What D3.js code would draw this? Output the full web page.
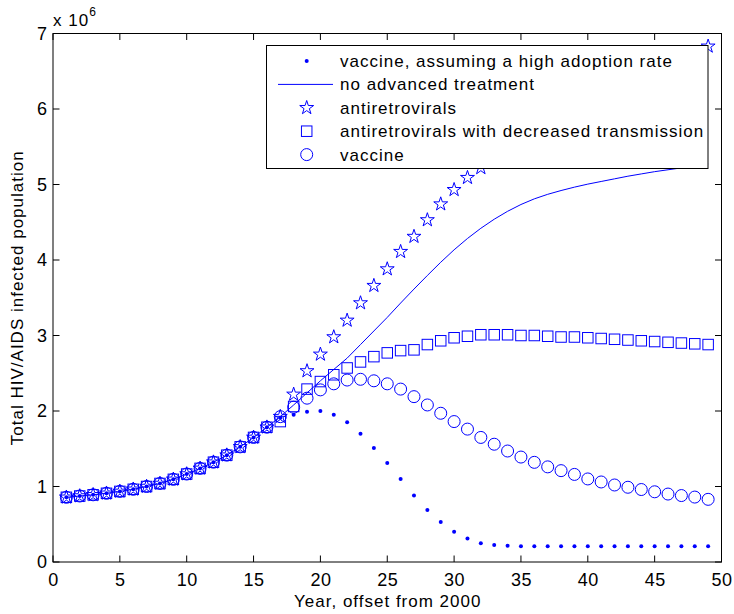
<!DOCTYPE html>
<html>
<head>
<meta charset="utf-8">
<script src="https://cdn.jsdelivr.net/npm/d3@7"></script>
<style>
  html, body { margin: 0; padding: 0; background: #fff; }
  svg { display: block; font-family: "Liberation Sans", Arial, sans-serif; }
</style>
</head>
<body>
<svg id="chart" width="734" height="614"></svg>
<script>
// ---- data (values in millions, i.e. x 10^6) ----
const years = [1,2,3,4,5,6,7,8,9,10,11,12,13,14,15,16,17,18,19,20,21,22,23,24,25,26,27,28,29,30,31,32,33,34,35,36,37,38,39,40,41,42,43,44,45,46,47,48,49];

const vaccineHighAdoption = [0.857,0.874,0.89,0.91,0.935,0.963,1.0,1.04,1.095,1.165,1.24,1.322,1.415,1.525,1.65,1.785,1.91,1.95,1.99,2.0,1.95,1.85,1.70,1.51,1.31,1.10,0.88,0.69,0.53,0.40,0.31,0.25,0.225,0.215,0.21,0.21,0.21,0.21,0.21,0.21,0.21,0.21,0.21,0.21,0.21,0.21,0.21,0.21,0.21];

const noAdvancedTreatment = [0.857,0.874,0.89,0.91,0.935,0.963,1.0,1.04,1.095,1.165,1.24,1.322,1.415,1.525,1.65,1.785,1.925,2.08,2.24,2.40,2.55,2.70,2.88,3.06,3.24,3.43,3.615,3.795,3.97,4.135,4.285,4.42,4.54,4.645,4.735,4.81,4.87,4.92,4.965,5.005,5.04,5.075,5.11,5.14,5.17,5.195,5.22,5.245,5.27];

const antiretrovirals = [0.857,0.874,0.89,0.91,0.935,0.963,1.0,1.04,1.095,1.165,1.24,1.322,1.415,1.525,1.65,1.785,1.925,2.22,2.53,2.75,2.98,3.20,3.43,3.66,3.88,4.11,4.31,4.53,4.74,4.93,5.09,5.22,5.36,5.49,5.61,5.72,5.83,5.93,6.03,6.12,6.21,6.29,6.37,6.45,6.53,6.60,6.68,6.75,6.83];

const antiretroviralsDecreased = [0.857,0.874,0.89,0.91,0.935,0.963,1.0,1.04,1.095,1.165,1.24,1.322,1.415,1.525,1.65,1.785,1.86,2.06,2.29,2.39,2.48,2.57,2.65,2.72,2.77,2.80,2.81,2.88,2.93,2.97,2.99,3.01,3.01,3.01,3.00,3.00,2.99,2.98,2.98,2.97,2.96,2.95,2.94,2.93,2.92,2.91,2.90,2.89,2.88];

const vaccine = [0.857,0.874,0.89,0.91,0.935,0.963,1.0,1.04,1.095,1.165,1.24,1.322,1.415,1.525,1.65,1.785,1.925,2.05,2.17,2.28,2.36,2.41,2.42,2.40,2.36,2.29,2.19,2.08,1.97,1.86,1.76,1.65,1.56,1.47,1.39,1.32,1.26,1.21,1.16,1.10,1.06,1.02,0.99,0.96,0.93,0.90,0.88,0.86,0.83];

const xTicks = [0,5,10,15,20,25,30,35,40,45,50];
const yTicks = [0,1,2,3,4,5,6,7];
const legendLabels = [
  "vaccine, assuming a high adoption rate",
  "no advanced treatment",
  "antiretrovirals",
  "antiretrovirals with decreased transmission",
  "vaccine"
];

// ---- drawing ----
const svg = d3.select("#chart");
const L = 53, R = 721.5, T = 33.5, B = 562;
const x = d3.scaleLinear().domain([0, 50]).range([L, R]);
const y = d3.scaleLinear().domain([0, 7]).range([B, T]);
const blue = "#0000ff";
const fs = 17;
const ls = "1px";

const plot = svg.append("g");
const pts = (vals) => years.map((yr, i) => [yr, vals[i]]);

// dots
plot.append("g").selectAll("circle").data(pts(vaccineHighAdoption)).join("circle")
  .attr("cx", d => x(d[0])).attr("cy", d => y(d[1])).attr("r", 2)
  .attr("fill", blue);

// line
plot.append("path").datum(pts(noAdvancedTreatment))
  .attr("d", d3.line().x(d => x(d[0])).y(d => y(d[1])))
  .attr("fill", "none").attr("stroke", blue).attr("stroke-width", 1);

// stars
const starSym = d3.symbol(d3.symbolStar).size(60);
plot.append("g").selectAll("path").data(pts(antiretrovirals)).join("path")
  .attr("transform", d => `translate(${x(d[0])},${y(d[1])})`)
  .attr("d", starSym).attr("fill", "none").attr("stroke", blue).attr("stroke-width", 1);

// squares
const sq = 10.5;
plot.append("g").selectAll("rect").data(pts(antiretroviralsDecreased)).join("rect")
  .attr("x", d => x(d[0]) - sq/2).attr("y", d => y(d[1]) - sq/2)
  .attr("width", sq).attr("height", sq)
  .attr("fill", "none").attr("stroke", blue).attr("stroke-width", 1);

// circles
plot.append("g").selectAll("circle").data(pts(vaccine)).join("circle")
  .attr("cx", d => x(d[0])).attr("cy", d => y(d[1])).attr("r", 6)
  .attr("fill", "none").attr("stroke", blue).attr("stroke-width", 1);

// ---- axes box ----
const ax = svg.append("g");
const tickLen = 6.5;
ax.append("rect").attr("x", L).attr("y", T).attr("width", R - L).attr("height", B - T)
  .attr("fill", "none").attr("stroke", "#000").attr("stroke-width", 1);

xTicks.forEach(t => {
  const px = x(t);
  ax.append("line").attr("x1", px).attr("x2", px).attr("y1", B).attr("y2", B - tickLen).attr("stroke", "#000");
  ax.append("line").attr("x1", px).attr("x2", px).attr("y1", T).attr("y2", T + tickLen).attr("stroke", "#000");
  ax.append("text").attr("x", px + 0.5).attr("y", 586).attr("text-anchor", "middle")
    .attr("font-size", fs + 1).attr("letter-spacing", "0.5px").text(t);
});
yTicks.forEach(t => {
  const py = y(t);
  ax.append("line").attr("x1", L).attr("x2", L + tickLen).attr("y1", py).attr("y2", py).attr("stroke", "#000");
  ax.append("line").attr("x1", R).attr("x2", R - tickLen).attr("y1", py).attr("y2", py).attr("stroke", "#000");
  ax.append("text").attr("x", 47).attr("y", py + 6).attr("text-anchor", "end")
    .attr("font-size", fs + 1).text(t);
});

// exponent label
const ex = svg.append("text").attr("x", 53).attr("y", 26).attr("font-size", fs).attr("letter-spacing", ls);
ex.append("tspan").text("x 10");
ex.append("tspan").attr("dy", -10).attr("font-size", 12).text("6");

// axis labels
svg.append("text").attr("x", (L + R) / 2 + 0.5).attr("y", 607).attr("text-anchor", "middle")
  .attr("font-size", fs).attr("letter-spacing", ls).text("Year, offset from 2000");
svg.append("text").attr("transform", `translate(23,${(T + B) / 2}) rotate(-90)`)
  .attr("text-anchor", "middle").attr("font-size", fs).attr("letter-spacing", ls)
  .text("Total HIV/AIDS infected population");

// ---- legend ----
const lg = svg.append("g");
lg.append("rect").attr("x", 266.5).attr("y", 45.5).attr("width", 441.5).attr("height", 123)
  .attr("fill", "#fff").attr("stroke", "#000").attr("stroke-width", 1);
const rowY = i => 61 + i * 23.4;
const mx = 306.7;
legendLabels.forEach((lab, i) => {
  lg.append("text").attr("x", 340).attr("y", rowY(i) + 6).attr("font-size", fs)
    .attr("letter-spacing", ls).text(lab);
});
lg.append("circle").attr("cx", mx).attr("cy", rowY(0)).attr("r", 2).attr("fill", blue);
lg.append("line").attr("x1", 278).attr("x2", 333).attr("y1", rowY(1)).attr("y2", rowY(1))
  .attr("stroke", blue).attr("stroke-width", 1);
lg.append("path").attr("transform", `translate(${mx},${rowY(2)})`).attr("d", starSym)
  .attr("fill", "none").attr("stroke", blue);
lg.append("rect").attr("x", mx - sq/2).attr("y", rowY(3) - sq/2).attr("width", sq).attr("height", sq)
  .attr("fill", "none").attr("stroke", blue);
lg.append("circle").attr("cx", mx).attr("cy", rowY(4)).attr("r", 6)
  .attr("fill", "none").attr("stroke", blue);
</script>
</body>
</html>
